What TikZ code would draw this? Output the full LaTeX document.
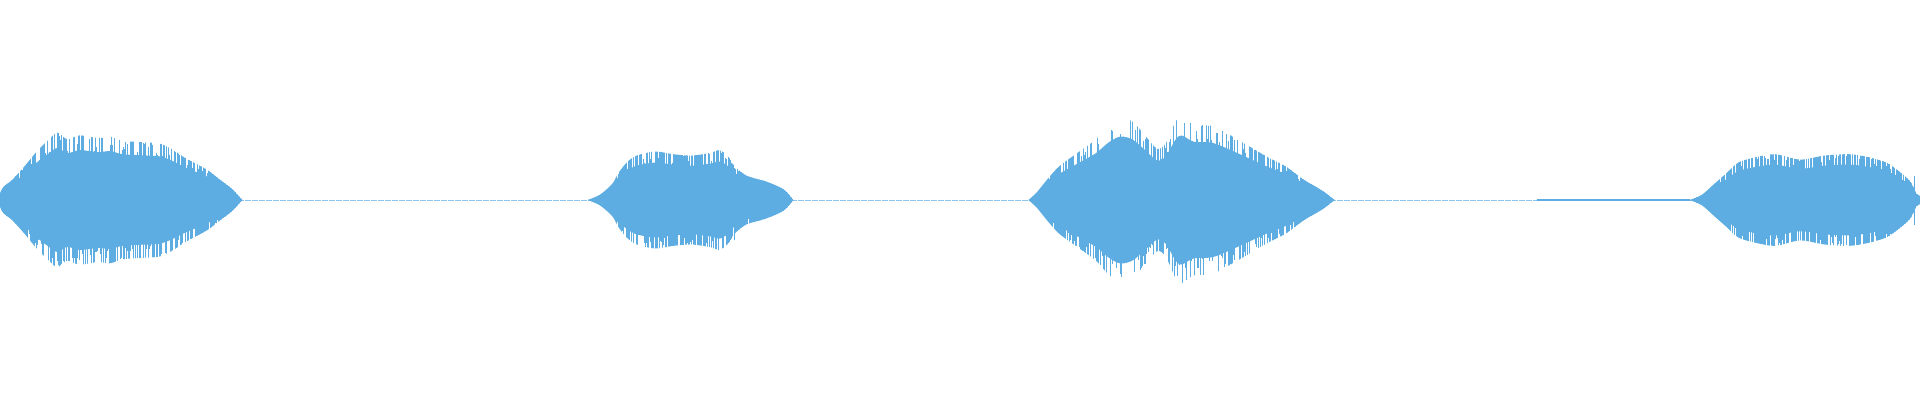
\documentclass[tikz,border=0pt]{standalone}
\definecolor{wave}{HTML}{5DADE2}
\newcommand\blobA{(0,0) (0,5) (3,10) (10,15) (20,25) (30,36) (40,45) (47,50) (55,45) (65,48) (80,46) (90,47) (100,44) (115,43) (130,42) (140,38) (150,32) (160,27) (170,22) (180,15) (190,8) (198,0)}
\newcommand\blobB{(480,0) (490,4) (500,12) (505,20) (512,28) (520,33) (535,36) (550,34) (565,33) (580,35) (588,37) (595,32) (600,25) (610,18) (625,14) (640,8) (648,0)}
\newcommand\blobC{(840,0) (847,6) (855,15) (865,25) (880,35) (895,45) (905,55) (915,61) (925,58) (935,48) (945,38) (952,42) (960,58) (965,62) (975,56) (990,55) (1005,48) (1020,40) (1035,32) (1050,25) (1065,15) (1080,7) (1090,0)}
\newcommand\blobD{(1380,0) (1390,4) (1400,12) (1410,20) (1420,28) (1435,32) (1450,34) (1470,30) (1490,33) (1510,34) (1525,32) (1540,28) (1550,22) (1560,14) (1565,5) (1568,3) (1568,0)}
\begin{document}
\begin{tikzpicture}[x=1.2245pt,y=1.2245pt,wavefill/.style={fill=wave}]
\pgfmathsetseed{7}
\useasboundingbox (0,-163.35) rectangle (1568,163.35);
\draw[wave!70,line width=0.4pt,dash pattern=on 6pt off 1pt] (0,0) -- (1568,0);
\draw[wave,line width=1.2pt] (1255,0) -- (1380,0);
\foreach \s in {1,-1}{
\begin{scope}[yscale=\s]
\foreach \b/\x/\y in {\blobA/0/198,\blobB/480/648,\blobC/840/1090,\blobD/1380/1568}{
\fill[wavefill,yscale=0.85] plot[smooth,tension=0.5] coordinates {\b} -- cycle;
\begin{scope}
\clip[yscale=1.1] plot[smooth,tension=0.5] coordinates {\b} -- cycle;
\foreach \xx in {\x,\x.8,...,\y}{
\pgfmathsetmacro\h{15+55*rnd}
\draw[wave,line width=0.35pt] (\xx,0) -- (\xx,\h);
}
\end{scope}
}
\end{scope}}
\draw[wave,line width=0.6pt] (90,-50) -- (90,45) (600,-33) -- (600,26) (1455,-35) -- (1455,30) (35,-45) -- (35,38) (1563,-20) -- (1563,20);
\end{tikzpicture}
\end{document}
